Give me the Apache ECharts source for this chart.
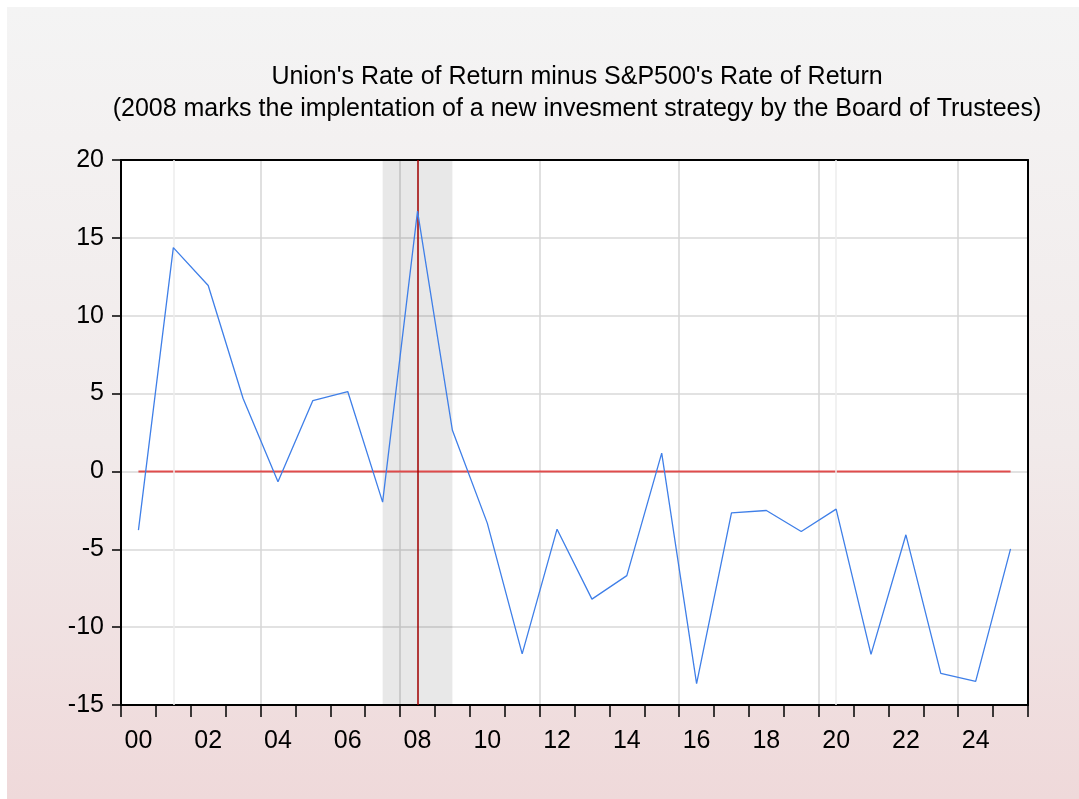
<!DOCTYPE html>
<html>
<head>
<meta charset="utf-8">
<script src="https://cdn.jsdelivr.net/npm/echarts@6/dist/echarts.min.js"></script>
<style>
  html, body { margin: 0; padding: 0; background: #fff; }
  #bg {
    position: absolute; left: 7px; top: 7px; width: 1072px; height: 792px;
    background: linear-gradient(to bottom, #f4f4f4 0%, #f1eaea 55%, #efd9da 100%);
  }
  #chart { position: absolute; left: 0; top: 0; width: 1079px; height: 799px; }
</style>
</head>
<body>
<div id="bg"></div>
<div id="chart"></div>
<script>
// years on the x axis (one category per year)
const years = ['2000', '2001', '2002', '2003', '2004', '2005', '2006', '2007', '2008', '2009',
  '2010', '2011', '2012', '2013', '2014', '2015', '2016', '2017', '2018', '2019',
  '2020', '2021', '2022', '2023', '2024', '2025'];

// Union's rate of return minus S&P500's rate of return
const diffReturn = [-3.77, 14.37, 11.94, 4.68, -0.66, 4.55, 5.13, -1.97, 16.72, 2.64,
  -3.32, -11.72, -3.71, -8.2, -6.69, 1.18, -13.63, -2.66, -2.51, -3.86,
  -2.42, -11.75, -4.07, -12.97, -13.48, -4.97];

const zeroLine = years.map(() => 0);

const yMin = -15;
const yMax = 20;
const yStep = 5;

const chart = echarts.init(document.getElementById('chart'));

// plain black frame line for top / right
const frameAxis = {
  show: true,
  axisLine: { show: true, onZero: false, lineStyle: { color: '#000', width: 2 } },
  axisTick: { show: false },
  axisLabel: { show: false },
  splitLine: { show: false }
};

const option = {
  backgroundColor: 'transparent',
  animation: false,
  title: {
    text: "Union's Rate of Return minus S&P500's Rate of Return\n(2008 marks the implentation of a new invesment strategy by the Board of Trustees)",
    left: 572,
    top: 56,
    textAlign: 'center',
    textStyle: {
      fontFamily: 'Liberation Sans, Arial, sans-serif',
      fontSize: 25,
      fontWeight: 'normal',
      color: '#000',
      lineHeight: 32
    }
  },
  grid: {
    left: 121,
    top: 160,
    right: 51,
    bottom: 94,
    show: true,
    backgroundColor: '#fff',
    borderWidth: 0
  },
  xAxis: [
    {
      type: 'category',
      data: years,
      boundaryGap: true,
      axisLine: { onZero: false, lineStyle: { color: '#000', width: 2 } },
      axisTick: {
        show: true,
        interval: 0,
        length: 12,
        lineStyle: { color: '#000', width: 1.5 }
      },
      axisLabel: {
        interval: 1,
        margin: 24,
        color: '#000',
        fontFamily: 'Liberation Sans, Arial, sans-serif',
        fontSize: 25,
        formatter: v => v.slice(2)
      },
      splitLine: {
        show: true,
        interval: (index) => index % 4 === 0,
        lineStyle: { color: '#d6d6d6', width: 1.5 }
      }
    },
    Object.assign({ type: 'category', data: years, position: 'top' }, frameAxis)
  ],
  yAxis: [
    {
      type: 'value',
      min: yMin,
      max: yMax,
      interval: yStep,
      axisLine: { show: true, lineStyle: { color: '#000', width: 2 } },
      axisTick: { show: true, length: 9, lineStyle: { color: '#000', width: 1.5 } },
      axisLabel: {
        margin: 17,
        color: '#000',
        fontFamily: 'Liberation Sans, Arial, sans-serif',
        fontSize: 25
      },
      splitLine: { lineStyle: { color: '#d9d9d9', width: 1.5 } }
    },
    Object.assign({ type: 'value', min: yMin, max: yMax, interval: yStep, position: 'right' }, frameAxis)
  ],
  series: [
    {
      name: 'zero',
      type: 'line',
      data: zeroLine,
      symbol: 'none',
      silent: true,
      z: 3,
      lineStyle: { color: '#e03c3c', width: 2, opacity: 0.9 },
      markArea: {
        silent: true,
        itemStyle: { color: 'rgba(0,0,0,0.09)' },
        data: [[{ xAxis: '2007' }, { xAxis: '2009' }]]
      },
      markLine: {
        silent: true,
        symbol: 'none',
        label: { show: false },
        data: [
          { xAxis: '2001', lineStyle: { color: '#ececec', width: 1.5, type: 'solid' } },
          { xAxis: '2020', lineStyle: { color: '#ececec', width: 1.5, type: 'solid' } }
        ]
      }
    },
    {
      name: 'diff',
      type: 'line',
      data: diffReturn,
      symbol: 'none',
      z: 5,
      lineStyle: { color: '#3f7fe8', width: 1.3 },
      markLine: {
        silent: true,
        symbol: 'none',
        label: { show: false },
        lineStyle: { color: '#a00000', width: 1.5, type: 'solid' },
        data: [{ xAxis: '2008' }]
      }
    }
  ]
};

chart.setOption(option);
window.addEventListener('resize', chart.resize);
</script>
</body>
</html>
